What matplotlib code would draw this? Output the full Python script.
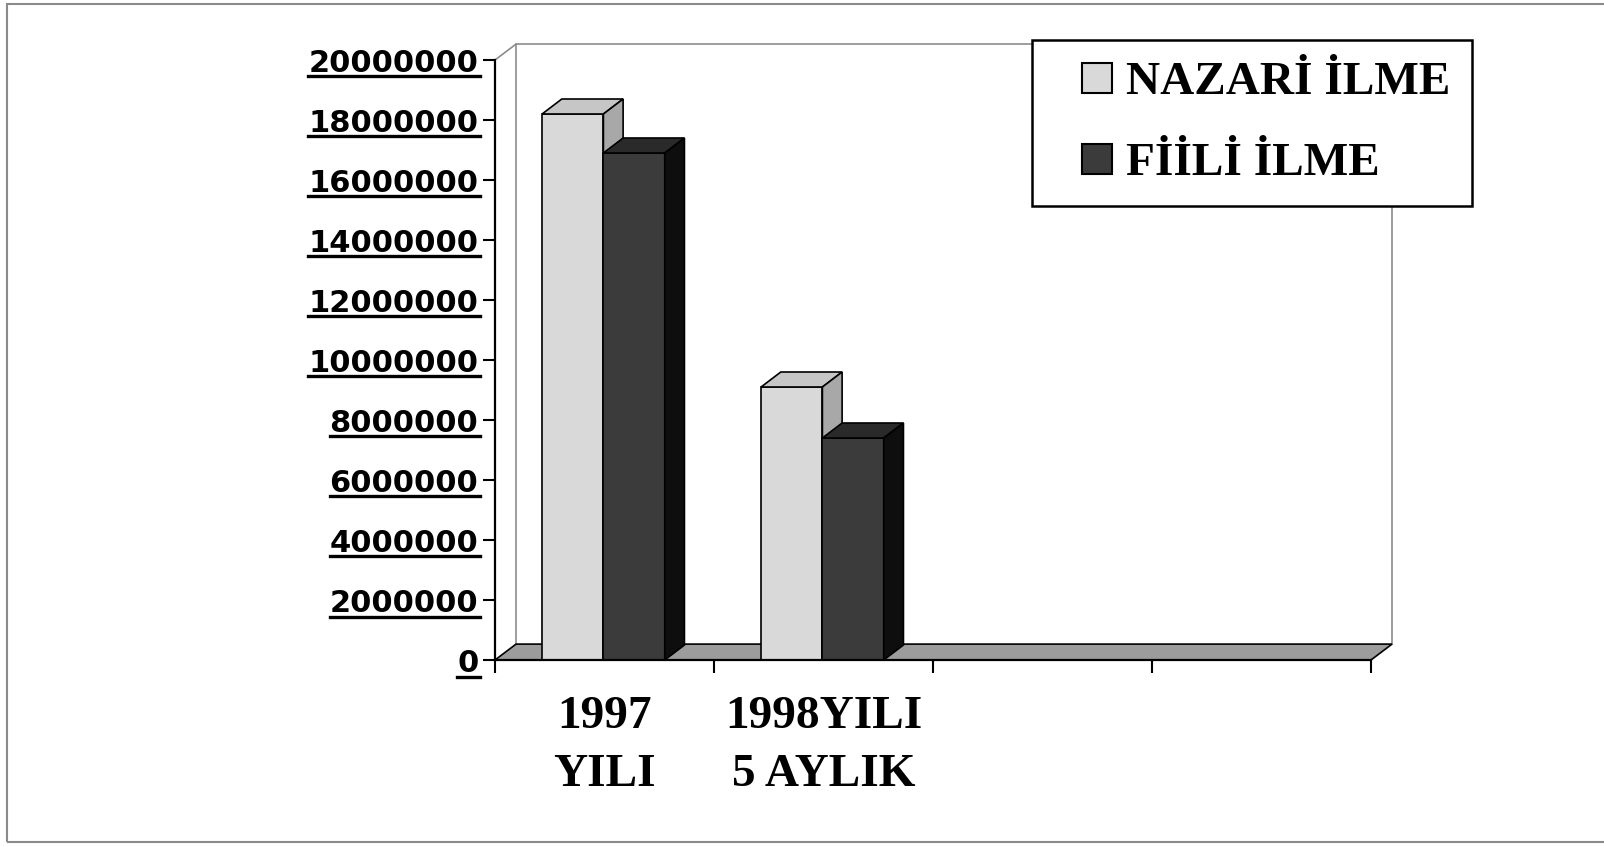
import numpy as np
import matplotlib
matplotlib.use("Agg")
import matplotlib.pyplot as plt
from matplotlib.patches import Polygon, Patch, Rectangle
from matplotlib.legend_handler import HandlerPatch
from matplotlib.lines import Line2D

# data
categories = ["1997\nYILI", "1998YILI\n5 AYLIK", "", ""]
nazari = [18200000, 9100000]
fiili = [16900000, 7400000]
series_names = ["NAZARİ İLME", "FİİLİ İLME"]
yticks = list(range(0, 20000001, 2000000))

W, H = 1604, 847
fig = plt.figure(figsize=(W / 100, H / 100), dpi=100)
fig.patch.set_facecolor("white")

# front plane of the pseudo 3d chart
ax = fig.add_axes([495 / W, (H - 660) / H, 876 / W, 600 / H])
ax.set_xlim(0, len(categories))
ax.set_ylim(0, 20000000)
ax.set_facecolor("none")
for s in ["top", "right"]:
    ax.spines[s].set_visible(False)
for s in ["left", "bottom"]:
    ax.spines[s].set_linewidth(1.6)
    ax.spines[s].set_zorder(6)

# depth offsets (data units)
wdx, wdy = 0.096, 530000
bdx, bdy = 0.09, 500000
ymax = 20000000
ncat = len(categories)

# back wall edges
wall = "#8c8c8c"
ax.add_line(Line2D([0, wdx], [ymax, ymax + wdy], color=wall, lw=1.2, clip_on=False, zorder=1))
ax.add_line(Line2D([wdx, wdx, ncat + wdx, ncat + wdx], [wdy, ymax + wdy, ymax + wdy, wdy],
                   color=wall, lw=1.2, clip_on=False, zorder=1))

# floor
floor = Polygon([[0, 0], [ncat, 0], [ncat + wdx, wdy], [wdx, wdy]], closed=True,
                facecolor="#9c9c9c", edgecolor="black", lw=1.2, clip_on=False, zorder=2)
ax.add_patch(floor)

# bars
idx = np.arange(len(nazari))
w = 0.28
faces = [("#d9d9d9", "#c6c6c6", "#a8a8a8"), ("#3b3b3b", "#2a2a2a", "#0e0e0e")]
for i, vals in enumerate([nazari, fiili]):
    front, top, side = faces[i]
    bars = ax.bar(idx + 0.215 + i * w, vals, width=w, align="edge", color=front,
                  edgecolor="black", lw=1.2, zorder=3 + 2 * i, clip_on=False)
    for b in bars:
        x0, x1, h = b.get_x(), b.get_x() + b.get_width(), b.get_height()
        ax.add_patch(Polygon([[x0, h], [x1, h], [x1 + bdx, h + bdy], [x0 + bdx, h + bdy]],
                             closed=True, facecolor=top, edgecolor="black", lw=1.2,
                             zorder=3 + 2 * i, clip_on=False))
        ax.add_patch(Polygon([[x1, 0], [x1 + bdx, bdy], [x1 + bdx, h + bdy], [x1, h]],
                             closed=True, facecolor=side, edgecolor="black", lw=1.2,
                             zorder=3 + 2 * i, clip_on=False))

# axes ticks
ax.set_yticks(yticks)
ax.set_yticklabels([str(v) for v in yticks], fontsize=22, fontweight="bold",
                   family="DejaVu Sans")
ax.tick_params(axis="y", direction="out", length=9, width=1.5, pad=3)

ax.set_xticks(np.arange(ncat + 1))
ax.set_xticklabels([])
ax.tick_params(axis="x", which="major", direction="out", length=9, width=1.5)
ax.set_xticks(np.arange(ncat) + 0.5, minor=True)
ax.set_xticklabels(categories, minor=True, fontsize=34, fontweight="bold",
                   family="Liberation Serif", linespacing=1.5)
ax.tick_params(axis="x", which="minor", length=0, pad=26)


# small square at the right end of the handle box
def square_handle(legend, orig_handle, xdescent, ydescent, width, height, fontsize):
    sq = 30 * 72 / 100
    return Rectangle((-xdescent + width - sq, -ydescent + (height - sq) / 2), sq, sq)


handles = [Patch(facecolor=faces[0][0], edgecolor="black", lw=1.5),
           Patch(facecolor=faces[1][0], edgecolor="black", lw=1.5)]
leg = ax.legend(handles, series_names, loc="upper left",
                bbox_to_anchor=(1032 / W, 1 - 40 / H), bbox_transform=fig.transFigure,
                borderaxespad=0, fancybox=False, framealpha=1, edgecolor="black",
                prop={"family": "Liberation Serif", "weight": "bold", "size": 34},
                handlelength=1.25, handleheight=0.7, handletextpad=0.3,
                labelspacing=0.8, borderpad=0.45,
                handler_map={Patch: HandlerPatch(patch_func=square_handle)})
leg.get_frame().set_linewidth(1.8)
leg.set_zorder(10)

# underline the value labels
fig.canvas.draw()
r = fig.canvas.get_renderer()
for lab in ax.get_yticklabels():
    if not lab.get_text():
        continue
    bb = lab.get_window_extent(r)
    fig.add_artist(Line2D([bb.x0 / W, (bb.x1 + 2) / W], [(bb.y0 + 1) / H, (bb.y0 + 1) / H],
                          color="black", lw=2.4, transform=fig.transFigure))

# outer frame
fig.add_artist(Rectangle((7 / W, 5 / H), 1.0, 838 / H, fill=False, edgecolor="#8a8a8a",
                         lw=1.5, transform=fig.transFigure, clip_on=False))

fig.savefig("out.png", dpi=100)
